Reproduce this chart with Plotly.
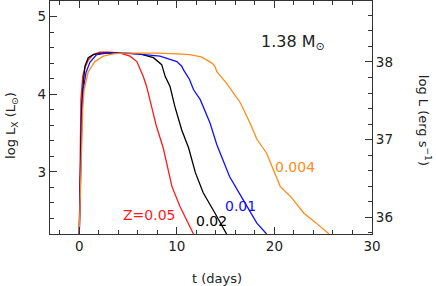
import plotly.graph_objects as go

# ---- data (t in days, log Lx in Lsun) ----
t_z005 = [0.0, 0.07, 0.17, 0.35, 0.58, 0.92, 1.43, 2.1, 3.1, 4.2, 5.2, 5.9, 6.2, 6.55, 6.9, 7.4, 7.9, 8.6, 9.0, 9.5, 10.3, 11.7]
L_z005 = [2.2, 3.31, 3.93, 4.23, 4.34, 4.44, 4.51, 4.54, 4.54, 4.53, 4.49, 4.42, 4.34, 4.23, 4.10, 3.84, 3.59, 3.31, 3.07, 2.81, 2.56, 2.2]

t_z002 = [0.0, 0.12, 0.25, 0.41, 0.58, 0.92, 1.43, 2.46, 4.0, 6.2, 7.6, 8.45, 8.8, 9.3, 9.8, 10.5, 11.2, 11.9, 12.7, 13.9, 15.1]
L_z002 = [2.2, 3.3, 3.85, 4.14, 4.36, 4.47, 4.51, 4.53, 4.53, 4.52, 4.47, 4.38, 4.23, 4.10, 3.84, 3.54, 3.31, 2.99, 2.73, 2.47, 2.2]

t_z001 = [0.0, 0.15, 0.3, 0.41, 0.69, 1.09, 1.78, 2.8, 5.0, 8.27, 10.0, 10.5, 10.7, 11.3, 11.7, 12.4, 13.4, 14.1, 15.4, 16.8, 18.2, 19.2]
L_z001 = [2.2, 3.3, 3.85, 4.06, 4.28, 4.41, 4.51, 4.53, 4.53, 4.49, 4.42, 4.36, 4.31, 4.19, 4.06, 3.93, 3.63, 3.35, 2.94, 2.64, 2.34, 2.2]

t_z0004 = [0.0, 0.2, 0.35, 0.5, 0.92, 1.6, 2.46, 3.5, 4.5, 6.0, 8.0, 10.0, 11.3, 12.5, 13.05, 13.6, 13.9, 14.1, 15.1, 16.5, 17.5, 18.2, 19.2, 19.9, 20.6, 21.6, 23.0, 24.3, 25.6]
L_z0004 = [2.2, 3.3, 3.8, 4.06, 4.29, 4.42, 4.49, 4.52, 4.53, 4.53, 4.53, 4.52, 4.51, 4.48, 4.44, 4.40, 4.36, 4.29, 4.14, 3.89, 3.63, 3.42, 3.24, 3.03, 2.81, 2.69, 2.47, 2.34, 2.2]

series_names = ["Z=0.05", "0.02", "0.01", "0.004"]
series_colors = ["#ff1a1a", "#000000", "#1010ff", "#ff8c1a"]

x_ticks = [0, 10, 20, 30]
y_ticks = [3, 4, 5]
y2_ticks = [36, 37, 38]

LOG_LSUN = 33.585  # log L(erg/s) = log Lx(Lsun) + 33.585
x_range = [-3, 30]
y_range = [2.2, 5.2]
y2_range = [y_range[0] + LOG_LSUN, y_range[1] + LOG_LSUN]

FONT = "DejaVu Sans"
TXT = "#222222"

fig = go.Figure()
data = [(t_z005, L_z005), (t_z002, L_z002), (t_z001, L_z001), (t_z0004, L_z0004)]
for (tt, ll), name, col in zip(data, series_names, series_colors):
    fig.add_trace(go.Scatter(x=tt, y=ll, mode="lines", name=name,
                             line=dict(color=col, width=1.3), showlegend=False))

# invisible trace to activate right axis
fig.add_trace(go.Scatter(x=[x_range[0]], y=[y2_range[0]], yaxis="y2", mode="markers",
                         marker=dict(opacity=0), showlegend=False, hoverinfo="skip"))

axis_common = dict(showline=True, linecolor="#333333", linewidth=1.3, ticks="inside",
                   ticklen=7, tickwidth=1.2, tickcolor="#333333", showgrid=False, zeroline=False,
                   tickfont=dict(family=FONT, size=13.5, color=TXT))

fig.update_layout(
    width=436, height=286,
    margin=dict(l=50, r=64, t=1, b=52),
    plot_bgcolor="white", paper_bgcolor="white",
    xaxis=dict(range=x_range, tickvals=x_ticks, mirror="ticks",
               minor=dict(dtick=2, tick0=0, ticks="inside", ticklen=4, tickcolor="#333333"),
               **axis_common),
    yaxis=dict(range=y_range, tickvals=y_ticks, mirror=False,
               minor=dict(dtick=0.2, tick0=3, ticks="inside", ticklen=4, tickcolor="#333333"),
               **axis_common),
    yaxis2=dict(range=y2_range, tickvals=y2_ticks, overlaying="y", side="right",
                minor=dict(dtick=0.2, tick0=36, ticks="inside", ticklen=4, tickcolor="#333333"),
                **axis_common),
)

# curve labels
label_pos = [(7.24, 2.45), (13.57, 2.37), (16.57, 2.56), (22.1, 3.06)]
for (lx, ly), name, col in zip(label_pos, series_names, series_colors):
    fig.add_annotation(x=lx, y=ly, text=name, showarrow=False, xanchor="center", yanchor="middle",
                       font=dict(family=FONT, size=14, color=col))

fig.add_annotation(x=18.4, y=4.66, text="1.38 M<sub>\u2299</sub>", showarrow=False,
                   xanchor="left", yanchor="middle", font=dict(family=FONT, size=16, color=TXT))

# axis titles
fig.add_annotation(xref="paper", yref="paper", x=0, y=0.464, xshift=-38,
                   text="log L<sub>X</sub> (L<sub>\u2299</sub>)", textangle=-90, showarrow=False,
                   xanchor="center", yanchor="middle", font=dict(family=FONT, size=13, color=TXT))
fig.add_annotation(xref="paper", yref="paper", x=1, y=0.49, xshift=53,
                   text="log L (erg s<sup>\u22121</sup>)", textangle=90, showarrow=False,
                   xanchor="center", yanchor="middle", font=dict(family=FONT, size=13, color=TXT))
fig.add_annotation(xref="paper", yref="paper", x=0.518, y=0, yshift=-44,
                   text="t (days)", showarrow=False,
                   xanchor="center", yanchor="middle", font=dict(family=FONT, size=13, color=TXT))

fig.write_html("out.html", config={"displayModeBar": False},
               post_script="document.body.style.margin='0';")
